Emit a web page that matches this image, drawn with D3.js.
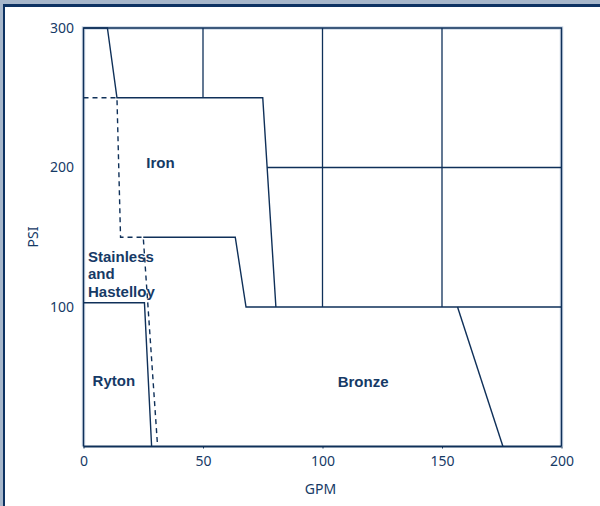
<!DOCTYPE html>
<html>
<head>
<meta charset="utf-8">
<script src="https://cdn.jsdelivr.net/npm/d3@7"></script>
<style>
  body { margin: 0; background: #fff; }
  svg { display: block; font-family: "Noto Sans", sans-serif; }
</style>
</head>
<body>
<script>
/* Pressure (PSI) vs flow (GPM) envelopes per pump material */

var xTicks = [0, 50, 100, 150, 200];
var yTicks = [100, 200, 300];

// outlines, as [GPM, PSI]
var ironEdge = [[0, 300], [10, 300], [14, 250], [75, 250], [80.5, 100]];
var stainlessEdge = [[25, 150], [63.5, 150], [68, 100], [200, 100]];
var stainlessDashed = [[0, 250], [14, 250], [15.5, 150], [25, 150], [31, 0]];
var rytonEdge = [[0, 103], [25.5, 103], [28.5, 0]];
var bronzeEdge = [[156.5, 100], [175.5, 0]];
var gridLines = [
  [[50, 300], [50, 250]],
  [[100, 300], [100, 100]],
  [[150, 300], [150, 100]],
  [[76.8, 200], [200, 200]]
];
var plotBox = [[0, 0], [0, 300], [200, 300], [200, 0]];

var width = 600, height = 506;
var ink = "#0f3059", textInk = "#163a66";

var svg = d3.select("body").append("svg")
    .attr("width", width)
    .attr("height", height);

/* slide frame */
svg.append("rect").attr("width", width).attr("height", height).attr("fill", "#a7b7cb");
svg.append("rect").attr("x", 3).attr("y", 4).attr("width", width).attr("height", height).attr("fill", "#0d3262");
svg.append("rect").attr("x", 5).attr("y", 7).attr("width", width).attr("height", height).attr("fill", "#fff");

var x = d3.scaleLinear().domain([0, 200]).range([83.5, 561.5]);
var y = d3.scaleLinear().domain([0, 300]).range([446.5, 28]);

var line = d3.line()
    .x(function(d) { return x(d[0]) })
    .y(function(d) { return y(d[1]) });

var g = svg.append("g");

/* faint glow around the plot box */
g.append("path")
    .attr("d", line(plotBox))
    .attr("fill", "none")
    .attr("stroke", "#c9d5e4")
    .attr("stroke-width", 3.5);

g.append("path")
    .attr("d", line(plotBox))
    .attr("fill", "none")
    .attr("stroke", ink)
    .attr("stroke-width", 1.4);

gridLines.forEach(function(seg) {
  g.append("path")
      .attr("d", line(seg))
      .attr("fill", "none")
      .attr("stroke", ink)
      .attr("stroke-width", 1.3);
});

[ironEdge, stainlessEdge, rytonEdge, bronzeEdge].forEach(function(pts) {
  g.append("path")
      .attr("d", line(pts))
      .attr("fill", "none")
      .attr("stroke", ink)
      .attr("stroke-width", 1.4);
});

g.append("path")
    .attr("d", line(stainlessDashed))
    .attr("fill", "none")
    .attr("stroke", ink)
    .attr("stroke-width", 1.4)
    .attr("stroke-dasharray", "5,4");

/* bottom baseline is heavier */
g.append("path")
    .attr("d", line([[0, 0], [200, 0]]))
    .attr("stroke", ink)
    .attr("stroke-width", 2.2);

/* axes */
var xAxis = g.append("g")
    .attr("transform", "translate(0," + y(0) + ")")
    .call(d3.axisBottom(x).tickValues(xTicks).tickSize(2).tickPadding(8));
xAxis.select(".domain").remove();
xAxis.selectAll("line").attr("stroke", ink);
xAxis.selectAll("text").attr("fill", textInk).style("font-size", "14px")
    .style("font-family", "'Noto Sans', sans-serif");

var yAxis = g.append("g")
    .attr("transform", "translate(" + x(0) + ",0)")
    .call(d3.axisLeft(y).tickValues(yTicks).tickSize(0).tickPadding(9.5));
yAxis.select(".domain").remove();
yAxis.selectAll("text").attr("fill", textInk).style("font-size", "14px")
    .style("font-family", "'Noto Sans', sans-serif");

svg.append("text")
    .attr("x", 320.5)
    .attr("y", 494)
    .attr("text-anchor", "middle")
    .attr("fill", textInk)
    .style("font-size", "14px")
    .text("GPM");

svg.append("text")
    .attr("transform", "translate(38,237) rotate(-90)")
    .attr("text-anchor", "middle")
    .attr("fill", textInk)
    .style("font-size", "14px")
    .text("PSI");

/* region names (Liberation Sans: tighter line box for the stacked label) */
function label(txt, gx, py, anchor) {
  return g.append("text")
      .attr("x", x(gx))
      .attr("y", y(py))
      .attr("text-anchor", anchor)
      .attr("fill", textInk)
      .style("font-family", "'Liberation Sans', sans-serif")
      .style("font-size", "15px")
      .style("font-weight", "bold")
      .text(txt);
}
label("Iron", 32.2, 199.3, "middle");
label("Ryton", 12.7, 43.6, "middle");
label("Bronze", 117, 42.4, "middle");

var st = label("", 1.9, 132.3, "start");
["Stainless", "and", "Hastelloy"].forEach(function(t, i) {
  st.append("tspan")
      .attr("x", x(1.9))
      .attr("dy", i ? 17.3 : 0)
      .text(t);
});
</script>
</body>
</html>
